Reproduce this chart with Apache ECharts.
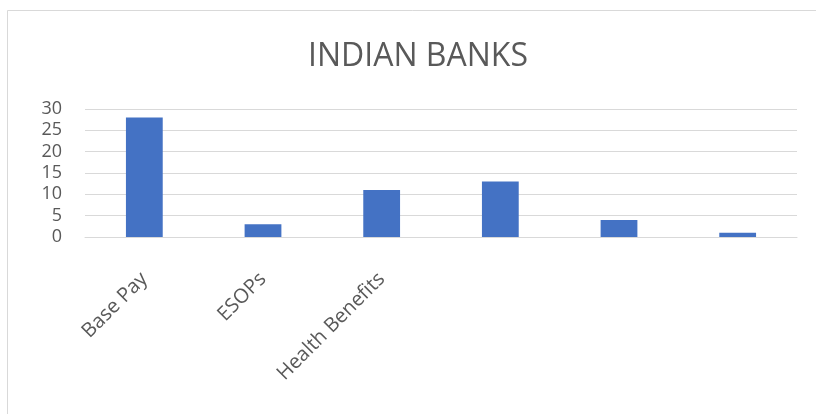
<!DOCTYPE html>
<html>
<head>
<meta charset="utf-8">
<script src="https://cdn.jsdelivr.net/npm/echarts@6/dist/echarts.min.js"></script>
<style>
    html, body { margin: 0; padding: 0; background: #fff; }
    #chart { width: 816px; height: 414px; }
</style>
</head>
<body>
<div id="chart"></div>
<script>
    // chart data
    var chartTitle = 'INDIAN BANKS';
    var categories = ['Base Pay', 'ESOPs', 'Health Benefits', '', '', ''];
    var values     = [28, 3, 11, 13, 4, 1];
    var yTicks     = { min: 0, max: 30, interval: 5 };

    var textColor = '#595959';
    var fontName  = '"Open Sans", "Liberation Sans", sans-serif';

    var chart = echarts.init(document.getElementById('chart'), null, { renderer: 'canvas' });

    chart.setOption({
        animation: false,
        backgroundColor: '#fff',
        title: {
            text: chartTitle,
            left: 413,
            top: 36,
            textAlign: 'center',
            textStyle: { color: textColor, fontFamily: fontName, fontWeight: 'normal', fontSize: 32 }
        },
        graphic: [{
            type: 'rect',
            shape: { x: 7.5, y: 10.5, width: 900, height: 500 },
            style: { fill: 'none', stroke: '#d9d9d9', lineWidth: 1 },
            silent: true
        }],
        grid: { left: 85, right: 19, top: 109, height: 128 },
        xAxis: {
            type: 'category',
            data: categories,
            axisLine: { lineStyle: { color: '#d9d9d9' } },
            axisTick: { show: false },
            axisLabel: {
                rotate: 45,
                interval: 0,
                margin: 39,
                color: textColor,
                fontFamily: fontName,
                fontSize: 20
            }
        },
        yAxis: {
            type: 'value',
            min: yTicks.min,
            max: yTicks.max,
            interval: yTicks.interval,
            axisLine: { show: false },
            axisTick: { show: false },
            splitLine: { lineStyle: { color: '#d9d9d9', width: 1 } },
            axisLabel: {
                margin: 23,
                color: textColor,
                fontFamily: fontName,
                fontSize: 18
            }
        },
        series: [{
            type: 'bar',
            data: values,
            barWidth: '31%',
            itemStyle: { color: '#4472c4' }
        }]
    });
</script>
</body>
</html>
